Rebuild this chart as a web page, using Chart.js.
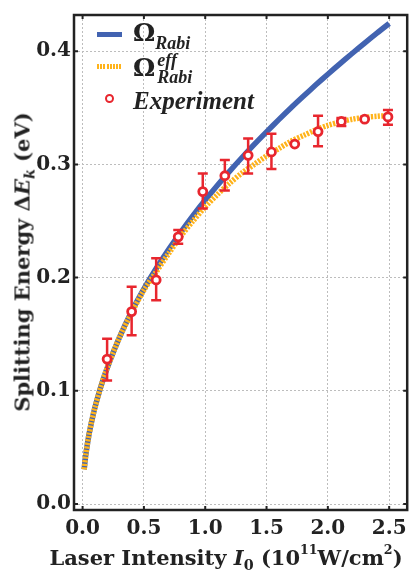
<!DOCTYPE html>
<html>
<head>
<meta charset="utf-8">
<script src="https://cdn.jsdelivr.net/npm/chart.js@4.4.1/dist/chart.umd.min.js"></script>
<style>
  body { margin: 0; background: #fff; }
  #wrap { position: relative; width: 414px; height: 578px; font-family: "DejaVu Serif", serif; font-weight: bold; color: #222; }
  .txt { position: absolute; white-space: nowrap; line-height: 1; }
  .sub { font-size: 0.68em; position: relative; top: 0.35em; font-style: italic; }
  .sup { font-size: 0.6em; position: relative; top: -0.85em; }
  .it { font-family: "Liberation Serif", serif; font-style: italic; }
  .swatch { position: absolute; }
</style>
</head>
<body>
<div id="wrap">
  <canvas id="chart"></canvas>

  <div class="swatch" style="left:97px; top:32px; width:25px; height:5px; background:#4263b1;"></div>
  <div class="txt" style="left:133px; top:20px; font-size:25px;">Ω<span class="it" style="font-size:18px; position:relative; top:8px;">Rabi</span></div>

  <div class="swatch" style="left:97px; top:64px; width:25px; height:5px; background:repeating-linear-gradient(90deg,#ffb31a 0 2px,#fff 2px 3.2px);"></div>
  <div class="txt" style="left:133px; top:55px; font-size:25px;">Ω<span class="it" style="display:inline-block; vertical-align:top; font-size:18px; line-height:0.92; margin-top:-3px; margin-left:2px;">eff<br>Rabi</span></div>

  <div class="swatch" style="left:105px; top:94px; width:5px; height:5px; border:2.8px solid #e8262e; border-radius:50%; background:#fff;"></div>
  <div class="txt it" style="left:133px; top:88px; font-size:25px;">Experiment</div>

  <div class="txt" id="ytitle" style="left:22px; top:262px; font-size:21px; transform:translate(-50%,-50%) rotate(-90deg);">Splitting Energy Δ<i>E</i><span class="sub">k</span> (eV)</div>
  <div class="txt" id="xtitle" style="left:226px; top:557px; font-size:21px; transform:translate(-50%,-50%);">Laser Intensity <i>I</i><span class="sub" style="font-style:normal;">0</span> (10<span class="sup">11</span>W/cm<span class="sup">2</span>)</div>
</div>

<script>
const xTicks = [0, 0.5, 1.0, 1.5, 2.0, 2.5];
const yTicks = [0, 0.1, 0.2, 0.3, 0.4];

// curves
const curveX  = [0.013, 0.025, 0.05, 0.075, 0.1, 0.15, 0.2, 0.3, 0.4, 0.5, 0.6, 0.7, 0.8, 0.9, 1.0, 1.1, 1.2, 1.3, 1.4, 1.5, 1.6, 1.7, 1.8, 1.9, 2.0, 2.1, 2.2, 2.3, 2.4, 2.5];
const rabi    = [0.0306, 0.0425, 0.060, 0.0735, 0.0849, 0.104, 0.120, 0.147, 0.170, 0.190, 0.208, 0.2246, 0.240, 0.2547, 0.2685, 0.2816, 0.2941, 0.3061, 0.3177, 0.3288, 0.3396, 0.3501, 0.3602, 0.3701, 0.3797, 0.3891, 0.3982, 0.4072, 0.4160, 0.4245];
const rabiEff = [0.0306, 0.0425, 0.060, 0.0735, 0.0849, 0.104, 0.120, 0.147, 0.169, 0.189, 0.205, 0.221, 0.2365, 0.250, 0.2625, 0.2735, 0.2835, 0.2925, 0.300, 0.3075, 0.314, 0.3205, 0.3255, 0.3305, 0.3345, 0.3375, 0.3400, 0.3415, 0.3425, 0.3432];

// experiment points and error bar ends
const expX  = [0.20, 0.40, 0.60, 0.78, 0.98, 1.16, 1.35, 1.54, 1.73, 1.92, 2.11, 2.30, 2.49];
const expY  = [0.128, 0.170, 0.198, 0.236, 0.276, 0.290, 0.308, 0.311, 0.318, 0.329, 0.338, 0.340, 0.342];
const expLo = [0.109, 0.149, 0.180, 0.230, 0.261, 0.277, 0.292, 0.296, 0.318, 0.316, 0.334, 0.340, 0.335];
const expHi = [0.146, 0.192, 0.217, 0.242, 0.292, 0.304, 0.323, 0.327, 0.318, 0.343, 0.341, 0.340, 0.348];

const RED = '#e8262e';

const framePlugin = {
  id: 'frame',
  beforeDatasetDraw(chart, args) {
    if (args.index !== 0) return;
    const ctx = chart.ctx, xs = chart.scales.x, ys = chart.scales.y;
    ctx.save();
    ctx.strokeStyle = RED;
    ctx.lineWidth = 2.5;
    expX.forEach((x, i) => {
      if (expHi[i] - expLo[i] < 0.002) return;
      const px = xs.getPixelForValue(x);
      const y1 = ys.getPixelForValue(expLo[i]);
      const y2 = ys.getPixelForValue(expHi[i]);
      ctx.beginPath();
      ctx.moveTo(px, y1); ctx.lineTo(px, y2);
      ctx.moveTo(px - 5, y1); ctx.lineTo(px + 5, y1);
      ctx.moveTo(px - 5, y2); ctx.lineTo(px + 5, y2);
      ctx.stroke();
    });
    ctx.restore();
  },
  afterDraw(chart) {
    const ctx = chart.ctx, a = chart.chartArea, xs = chart.scales.x, ys = chart.scales.y;
    ctx.save();
    ctx.strokeStyle = '#222';
    ctx.lineWidth = 2.5;
    ctx.strokeRect(a.left, a.top, a.right - a.left, a.bottom - a.top);
    ctx.lineWidth = 2;
    ctx.beginPath();
    xTicks.forEach(v => {
      const p = xs.getPixelForValue(v);
      ctx.moveTo(p, a.bottom); ctx.lineTo(p, a.bottom - 4);
      ctx.moveTo(p, a.top); ctx.lineTo(p, a.top + 4);
    });
    yTicks.forEach(v => {
      const p = ys.getPixelForValue(v);
      ctx.moveTo(a.left, p); ctx.lineTo(a.left + 4, p);
      ctx.moveTo(a.right, p); ctx.lineTo(a.right - 4, p);
    });
    ctx.stroke();
    ctx.restore();
  }
};

const tickFont = { family: 'DejaVu Serif', size: 20, weight: 'bold' };

new Chart(document.getElementById('chart').getContext('2d'), {
  type: 'scatter',
  data: {
    datasets: [
      {
        label: 'Experiment',
        data: expX.map((x, i) => ({ x: x, y: expY[i] })),
        pointRadius: 4,
        pointBorderWidth: 2.8,
        pointBorderColor: RED,
        pointBackgroundColor: '#fff',
        showLine: false
      },
      {
        label: 'Rabi eff',
        data: curveX.map((x, i) => ({ x: x, y: rabiEff[i] })),
        showLine: true,
        borderColor: '#ffb31a',
        borderWidth: 5.5,
        borderDash: [2.2, 1.3],
        pointRadius: 0,
        tension: 0.3
      },
      {
        label: 'Rabi',
        data: curveX.map((x, i) => ({ x: x, y: rabi[i] })),
        showLine: true,
        borderColor: '#4263b1',
        borderWidth: 5.5,
        pointRadius: 0,
        tension: 0.3
      }
    ]
  },
  options: {
    responsive: true,
    maintainAspectRatio: false,
    animation: false,
    layout: { padding: { top: 10, right: 2.5, left: 0, bottom: 0 } },
    plugins: { legend: { display: false }, tooltip: { enabled: false } },
    scales: {
      x: {
        type: 'linear',
        min: -0.07,
        max: 2.647,
        afterFit: s => { s.height = 68; },
        afterBuildTicks: s => { s.ticks = xTicks.map(v => ({ value: v })); },
        grid: { color: '#bdbdbd', lineWidth: 1, drawTicks: false },
        border: { display: false, dash: [2, 2] },
        ticks: { color: '#222', font: tickFont, padding: 7, maxRotation: 0, callback: v => v.toFixed(1) }
      },
      y: {
        type: 'linear',
        min: -0.0053,
        max: 0.432,
        afterFit: s => { s.width = 74; },
        afterBuildTicks: s => { s.ticks = yTicks.map(v => ({ value: v })); },
        grid: { color: '#bdbdbd', lineWidth: 1, drawTicks: false },
        border: { display: false, dash: [2, 2] },
        ticks: { color: '#222', font: tickFont, padding: 3, callback: v => v.toFixed(1) }
      }
    }
  },
  plugins: [framePlugin]
});
</script>
</body>
</html>
